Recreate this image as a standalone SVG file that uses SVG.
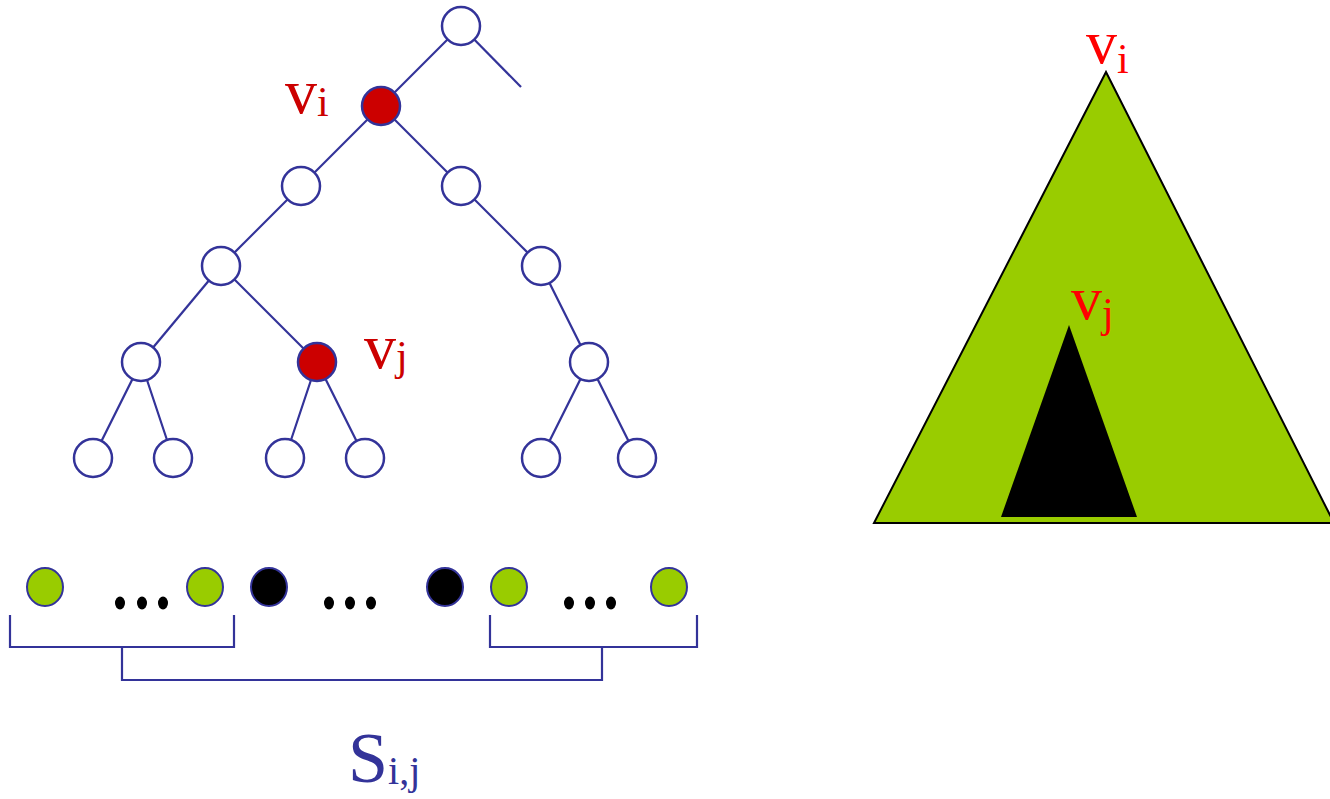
<svg xmlns="http://www.w3.org/2000/svg" width="1330" height="799" viewBox="0 0 1330 799">
<style>
.e{stroke:#333399;stroke-width:2.2;fill:none}
.n{fill:#fff;stroke:#333399;stroke-width:2.5}
.r{fill:#CC0000;stroke:#333399;stroke-width:2.5}
.g{fill:#99CC00;stroke:#333399;stroke-width:2}
.b{fill:#000;stroke:#333399;stroke-width:2}
.lbl{font-family:"Liberation Serif",serif;fill:#CC0000}
.lbl2{font-family:"Liberation Serif",serif;fill:#FF0000}
.d{fill:#000}
</style>
<rect width="1330" height="799" fill="#fff"/>
<g id="connectors">
<line class="e" x1="461" y1="26" x2="521" y2="87"/>
<line class="e" x1="461" y1="26" x2="381" y2="106"/>
<line class="e" x1="381" y1="106" x2="301" y2="186"/>
<line class="e" x1="381" y1="106" x2="461" y2="186"/>
<line class="e" x1="301" y1="186" x2="221" y2="266"/>
<line class="e" x1="461" y1="186" x2="541" y2="266"/>
<line class="e" x1="221" y1="266" x2="141" y2="362"/>
<line class="e" x1="221" y1="266" x2="317" y2="362"/>
<line class="e" x1="541" y1="266" x2="589" y2="362"/>
<line class="e" x1="141" y1="362" x2="93" y2="458"/>
<line class="e" x1="141" y1="362" x2="173" y2="458"/>
<line class="e" x1="317" y1="362" x2="285" y2="458"/>
<line class="e" x1="317" y1="362" x2="365" y2="458"/>
<line class="e" x1="589" y1="362" x2="541" y2="458"/>
<line class="e" x1="589" y1="362" x2="637" y2="458"/>
<polyline class="e" points="10,615 10,647 234,647 234,615"/>
<polyline class="e" points="490,615 490,647 697,647 697,615"/>
<polyline class="e" points="122,647 122,680 602,680 602,647"/>
</g>
<g id="n-root"><circle class="n" cx="461" cy="26" r="19"/></g>
<g id="n-vi"><circle class="r" cx="381" cy="106" r="19"/></g>
<g id="n-a"><circle class="n" cx="301" cy="186" r="19"/></g>
<g id="n-b"><circle class="n" cx="461" cy="186" r="19"/></g>
<g id="n-c"><circle class="n" cx="221" cy="266" r="19"/></g>
<g id="n-d"><circle class="n" cx="541" cy="266" r="19"/></g>
<g id="n-e"><circle class="n" cx="141" cy="362" r="19"/></g>
<g id="n-vj"><circle class="r" cx="317" cy="362" r="19"/></g>
<g id="n-f"><circle class="n" cx="589" cy="362" r="19"/></g>
<g id="n-l1"><circle class="n" cx="93" cy="458" r="19"/></g>
<g id="n-l2"><circle class="n" cx="173" cy="458" r="19"/></g>
<g id="n-l3"><circle class="n" cx="285" cy="458" r="19"/></g>
<g id="n-l4"><circle class="n" cx="365" cy="458" r="19"/></g>
<g id="n-l5"><circle class="n" cx="541" cy="458" r="19"/></g>
<g id="n-l6"><circle class="n" cx="637" cy="458" r="19"/></g>
<g id="label-vi"><text class="lbl" x="285" y="113" font-size="64">v<tspan font-size="42" dy="3">i</tspan></text></g>
<g id="label-vj"><text class="lbl" x="364" y="368" font-size="64">v<tspan font-size="42" dy="2">j</tspan></text></g>
<g id="row">
<ellipse class="g" cx="45" cy="587" rx="18" ry="19"/>
<ellipse class="g" cx="205" cy="587" rx="18" ry="19"/>
<ellipse class="b" cx="269" cy="587" rx="18" ry="19"/>
<ellipse class="b" cx="445" cy="587" rx="18" ry="19"/>
<ellipse class="g" cx="509" cy="587" rx="18" ry="19"/>
<ellipse class="g" cx="669" cy="587" rx="18" ry="19"/>
<ellipse class="d" cx="120" cy="603" rx="5" ry="6.5"/><ellipse class="d" cx="142" cy="603" rx="5" ry="6.5"/><ellipse class="d" cx="163" cy="603" rx="5" ry="6.5"/>
<ellipse class="d" cx="329" cy="603" rx="5" ry="6.5"/><ellipse class="d" cx="350" cy="603" rx="5" ry="6.5"/><ellipse class="d" cx="371" cy="603" rx="5" ry="6.5"/>
<ellipse class="d" cx="569" cy="603" rx="5" ry="6.5"/><ellipse class="d" cx="590" cy="603" rx="5" ry="6.5"/><ellipse class="d" cx="611" cy="603" rx="5" ry="6.5"/>
</g>
<g id="label-s"><text x="348" y="782" font-family="Liberation Serif, serif" font-size="72" fill="#333399">S<tspan font-size="40" dy="2">i,j</tspan></text></g>
<g id="big-tree">
<polygon points="1106,72 874,523 1334,523" fill="#99CC00" stroke="#000" stroke-width="2"/>
<polygon points="1069,325 1001,517 1137,517" fill="#000"/>
<text class="lbl2" x="1086" y="63" font-size="62">v<tspan font-size="42" dy="10">i</tspan></text>
<text class="lbl2" x="1071" y="319" font-size="62">v<tspan font-size="42" dy="8">j</tspan></text>
</g>
</svg>
